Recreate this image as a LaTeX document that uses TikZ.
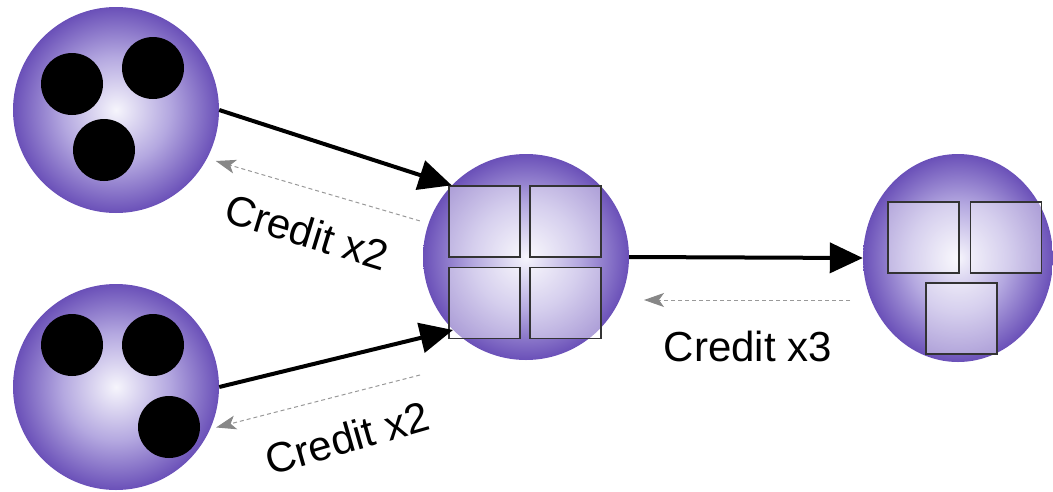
\documentclass[tikz,border=0pt]{standalone}
\usepackage{fontspec}
\setmainfont{Liberation Sans}
\usetikzlibrary{arrows.meta,shapes.geometric}

\definecolor{orbin}{RGB}{246,245,252}
\definecolor{orbmid}{RGB}{180,168,224}
\definecolor{orbout}{RGB}{106,80,184}
\definecolor{creditgray}{RGB}{135,135,135}

\pgfdeclareradialshading{orb}{\pgfpoint{0bp}{0bp}}{%
  color(0bp)=(orbin); color(13bp)=(orbmid); color(25bp)=(orbout); color(50bp)=(orbout)}

\tikzset{
  orbnode/.style={circle, minimum size=206pt, inner sep=0pt, shading=orb},
  orbflat/.style={ellipse, minimum width=190pt, minimum height=208pt, inner sep=0pt, shading=orb},
  token/.style={circle, fill=black, minimum size=62pt, inner sep=0pt},
  slot/.style={rectangle, minimum size=71pt, inner sep=0pt, draw=black!80, line width=1.1pt, fill=white, fill opacity=0.45, draw opacity=1},
  flow/.style={line width=4pt, -{Triangle[length=33pt,width=30pt]}},
  credit/.style={draw=creditgray!85, line width=1pt, dash pattern=on 4pt off 3pt,
                 -{Stealth[length=20pt,width=14pt,inset=5pt,color=creditgray,fill=creditgray]}},
  lbl/.style={font=\fontsize{42}{46}\selectfont, inner sep=0pt}
}

\begin{document}
\begin{tikzpicture}[x=1pt,y=-1pt]
  \useasboundingbox (0,0) rectangle (1053,491);

  % sources
  \node[orbnode] (srcA) at (116,110) {};
  \node[token] (a1) at (72,84) {};
  \node[token] (a2) at (153,68) {};
  \node[token] (a3) at (104,150) {};

  \node[orbnode] (srcB) at (116,387) {};
  \node[token] (b1) at (72,345) {};
  \node[token] (b2) at (153,345) {};
  \node[token] (b3) at (169,427) {};

  % buffer with four slots
  \node[orbnode] (mid) at (526,257) {};
  \node[slot] (m1) at (484.5,221.5) {};
  \node[slot] (m2) at (565.5,221.5) {};
  \node[slot] (m3) at (484.5,303) {};
  \node[slot] (m4) at (565.5,303) {};

  % sink with three slots
  \node[orbflat] (sink) at (958,258) {};
  \node[slot] (s1) at (923.5,237.5) {};
  \node[slot] (s2) at (1006,237.5) {};
  \node[slot] (s3) at (961.5,318.5) {};

  % data flow
  \draw[flow] (srcA.0) -- (mid.136);
  \draw[flow] (srcB.0) -- (mid.225);
  \draw[flow] (mid.east) -- (sink.west);

  % credit return paths
  \coordinate (cbTail) at (420,375);
  \coordinate (ccTail) at (850,300);
  \coordinate (ccTip) at (644,300);
  \draw[credit, shorten <=9pt, shorten >=9pt] (mid.161) -- (srcA.-28);
  \draw[credit, shorten >=6pt] (cbTail) -- (srcB.-24);
  \draw[credit] (ccTail) -- (ccTip);

  % labels
  \node[lbl, rotate=-17] (la) at (307,232) {Credit x2};
  \node[lbl, rotate=16] (lb) at (347,438) {Credit x2};
  \node[lbl] (lc) at (748,346) {Credit x3};
\end{tikzpicture}
\end{document}
